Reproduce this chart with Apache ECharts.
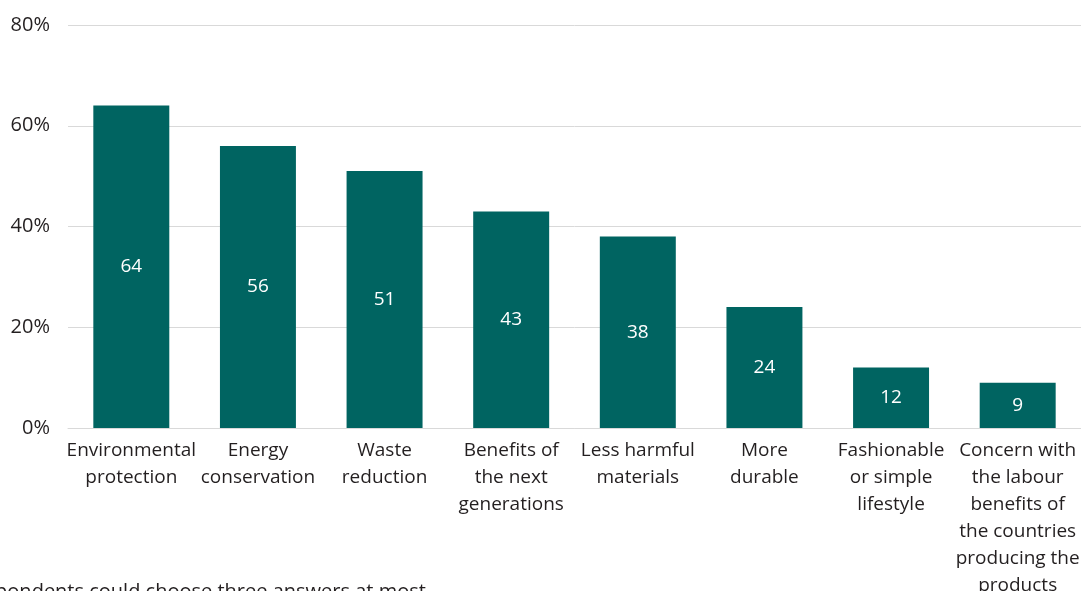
<!DOCTYPE html>
<html>
<head>
<meta charset="utf-8">
<script src="https://cdn.jsdelivr.net/npm/echarts@6/dist/echarts.min.js"></script>
<style>
  html, body { margin: 0; padding: 0; background: #fff; }
  #chart { width: 1081px; height: 591px; }
</style>
</head>
<body>
<div id="chart"></div>
<script>
// Reasons for choosing sustainable products (share of respondents, %)
const categories = [
  'Environmental\nprotection',
  'Energy\nconservation',
  'Waste\nreduction',
  'Benefits of\nthe next\ngenerations',
  'Less harmful\nmaterials',
  'More\ndurable',
  'Fashionable\nor simple\nlifestyle',
  'Concern with\nthe labour\nbenefits of\nthe countries\nproducing the\nproducts'
];
const values = [64, 56, 51, 43, 38, 24, 12, 9];
const yTicks = { min: 0, max: 80, interval: 20 };
const noteText = 'Respondents could choose three answers at most';

const FONT = '"Open Sans", "Noto Sans", sans-serif';
const TEXT = '#231f20';
const chart = echarts.init(document.getElementById('chart'), null, { renderer: 'canvas' });

chart.setOption({
  animation: false,
  grid: {
    left: 68, right: 0, top: 25, bottom: 163,
    containLabel: false,
    outerBoundsMode: 'none'
  },
  xAxis: {
    type: 'category',
    data: categories,
    axisLine: { show: true, lineStyle: { color: '#d9d9d9', width: 1 } },
    axisTick: { show: false },
    axisLabel: {
      interval: 0,
      margin: 9,
      color: TEXT,
      fontFamily: FONT,
      fontSize: 19,
      lineHeight: 27,
      align: 'center'
    }
  },
  yAxis: {
    type: 'value',
    min: yTicks.min,
    max: yTicks.max,
    interval: yTicks.interval,
    axisLine: { show: false },
    axisTick: { show: false },
    splitLine: { lineStyle: { color: '#d9d9d9', width: 1 } },
    axisLabel: {
      formatter: '{value}%',
      margin: 18,
      color: TEXT,
      fontFamily: FONT,
      fontSize: 20
    }
  },
  series: [{
    type: 'bar',
    data: values,
    barWidth: '60%',
    itemStyle: { color: '#006461' },
    label: {
      show: true,
      position: 'inside',
      color: '#ffffff',
      fontFamily: FONT,
      fontSize: 19
    }
  }],
  graphic: [{
    type: 'text',
    left: -38,
    top: 582,
    style: {
      text: noteText,
      fill: TEXT,
      font: '20px ' + FONT
    }
  }]
});
</script>
</body>
</html>
